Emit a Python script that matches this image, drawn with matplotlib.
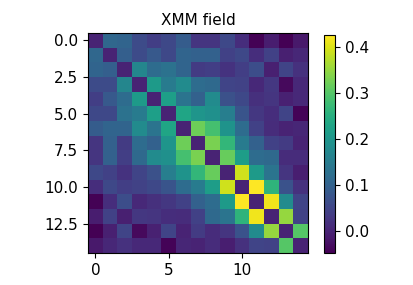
import matplotlib
matplotlib.use("Agg")
import matplotlib.pyplot as plt
import numpy as np

title = "XMM field"

# 15x15 matrix, values (symmetric, zero diagonal)
row00 = [0.0, 0.11, 0.105, 0.06, 0.04, 0.055, 0.09, 0.025, 0.025, 0.055, 0.015, -0.045, -0.01, -0.047, -0.015]
row01 = [0.11, 0.0, 0.095, 0.06, 0.085, 0.055, 0.105, 0.1, 0.1, 0.045, 0.055, 0.015, 0.045, -0.005, 0.005]
row02 = [0.105, 0.095, 0.0, 0.17, 0.12, 0.13, 0.105, 0.035, 0.04, 0.022, 0.04, 0.065, -0.005, 0.05, 0.02]
row03 = [0.06, 0.06, 0.17, 0.0, 0.21, 0.15, 0.18, 0.12, 0.115, 0.05, 0.047, 0.008, 0.03, -0.035, 0.008]
row04 = [0.04, 0.085, 0.12, 0.21, 0.0, 0.22, 0.135, 0.1, 0.18, 0.07, 0.055, 0.018, 0.025, -0.003, 0.008]
row05 = [0.055, 0.055, 0.13, 0.15, 0.22, 0.0, 0.23, 0.2, 0.19, 0.155, 0.075, 0.03, 0.015, 0.05, -0.043]
row06 = [0.09, 0.105, 0.105, 0.18, 0.135, 0.23, 0.0, 0.32, 0.285, 0.195, 0.12, 0.045, 0.012, 0.0, 0.003]
row07 = [0.025, 0.1, 0.035, 0.12, 0.1, 0.2, 0.32, 0.0, 0.33, 0.265, 0.15, 0.1, 0.045, 0.035, 0.0]
row08 = [0.025, 0.1, 0.04, 0.115, 0.18, 0.19, 0.285, 0.33, 0.0, 0.315, 0.215, 0.12, 0.115, 0.012, 0.012]
row09 = [0.055, 0.045, 0.022, 0.05, 0.07, 0.155, 0.195, 0.265, 0.315, 0.0, 0.39, 0.21, 0.135, 0.025, -0.008]
row10 = [0.015, 0.055, 0.04, 0.047, 0.055, 0.075, 0.12, 0.15, 0.215, 0.39, 0.0, 0.425, 0.26, 0.072, 0.02]
row11 = [-0.045, 0.015, 0.065, 0.008, 0.018, 0.03, 0.045, 0.1, 0.12, 0.21, 0.425, 0.0, 0.415, 0.18, 0.05]
row12 = [-0.01, 0.045, -0.005, 0.03, 0.025, 0.015, 0.012, 0.045, 0.115, 0.135, 0.26, 0.415, 0.0, 0.35, 0.047]
row13 = [-0.047, -0.005, 0.05, -0.035, -0.003, 0.05, 0.0, 0.035, 0.012, 0.025, 0.072, 0.18, 0.35, 0.0, 0.3]
row14 = [-0.015, 0.005, 0.02, 0.008, 0.008, -0.043, 0.003, 0.0, 0.012, -0.008, 0.02, 0.05, 0.047, 0.3, 0.0]

rows = [row00, row01, row02, row03, row04, row05, row06, row07,
        row08, row09, row10, row11, row12, row13, row14]
mat = np.array(rows)

fig = plt.figure(figsize=(4.14, 2.85), dpi=100)
ax = fig.add_axes([88 / 414, 32 / 285, 220 / 414, 220 / 285])
im = ax.imshow(mat, cmap='viridis')
ax.set_title(title, fontsize=11)
ax.tick_params(labelsize=11)

cax = fig.add_axes([324 / 414, 32 / 285, 11 / 414, 218 / 285])
cb = fig.colorbar(im, cax=cax)
cb.ax.tick_params(labelsize=11)

fig.savefig("out.png", dpi=100)
